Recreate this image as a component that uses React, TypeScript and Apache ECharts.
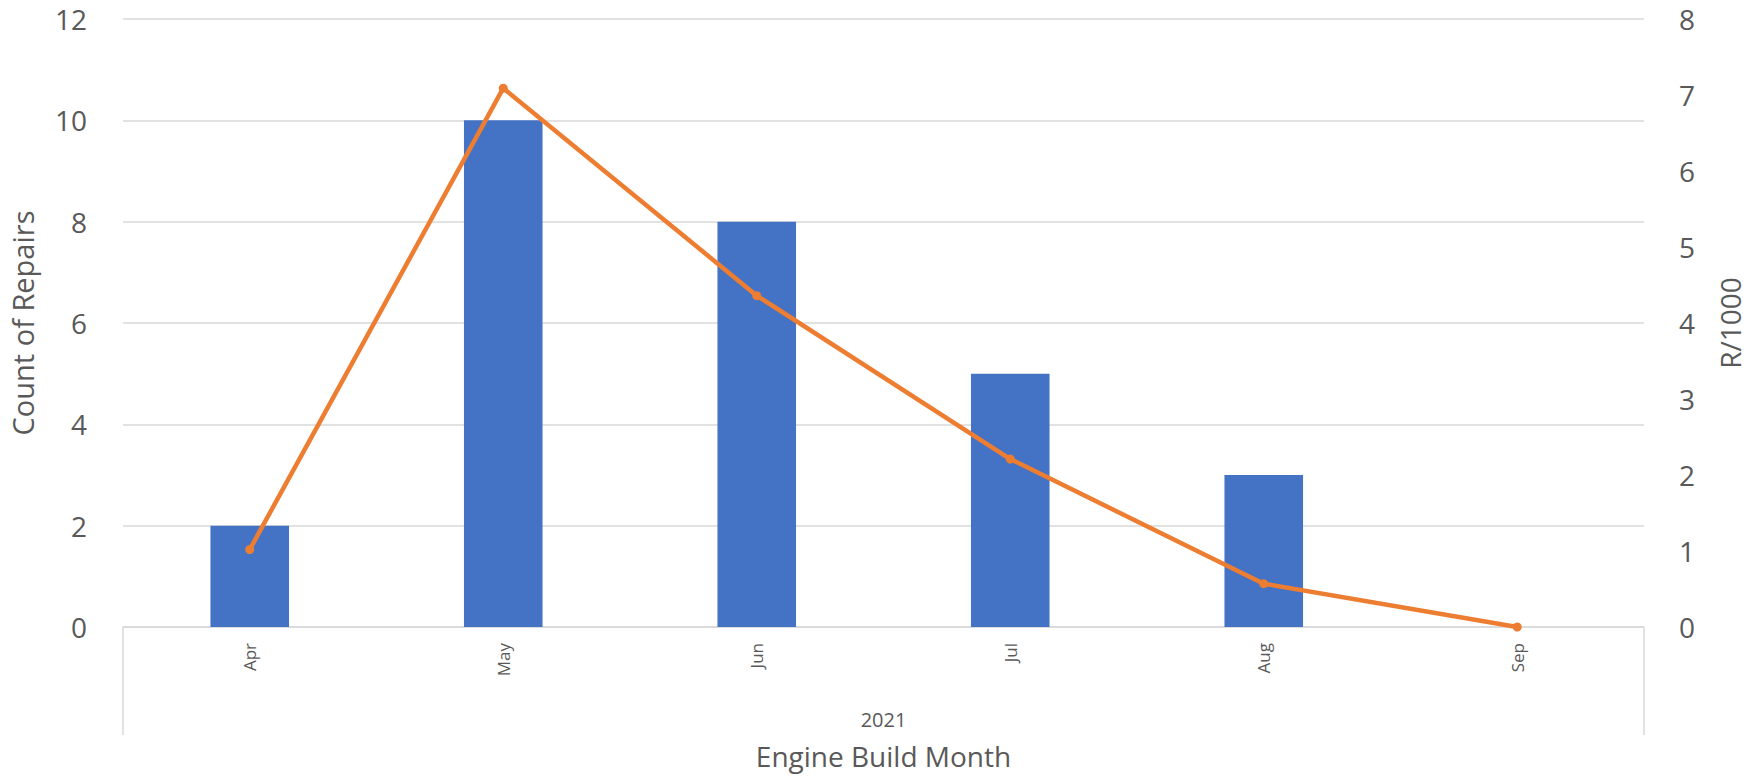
import React, { useEffect, useRef } from "react";
import * as echarts from "echarts";

const months = ["Apr", "May", "Jun", "Jul", "Aug", "Sep"];
const years = ["2021"];
const repairCounts = [2, 10, 8, 5, 3, 0];
const ratePerThousand = [1.02, 7.09, 4.36, 2.21, 0.57, 0];

const FONT = "'Open Sans', 'Noto Sans', sans-serif";
const TEXT = "#595959";
const GRID = "#d9d9d9";

export default function App() {
  const ref = useRef<HTMLDivElement>(null);
  useEffect(() => {
    if (!ref.current) return;
    const chart = echarts.init(ref.current, undefined, { renderer: "svg" });
    chart.setOption({
      animation: false,
      backgroundColor: "#ffffff",
      textStyle: { fontFamily: FONT },
      grid: { left: 122, right: 104, top: 19, bottom: 151, containLabel: false },
      xAxis: [
        {
          type: "category",
          data: months,
          position: "bottom",
          axisLine: { show: true, lineStyle: { color: GRID, width: 1.5 } },
          axisTick: { show: false },
          axisLabel: {
            rotate: 90,
            fontSize: 17,
            color: TEXT,
            margin: 16,
            fontFamily: FONT,
          },
        },
        {
          type: "category",
          data: years,
          position: "bottom",
          axisLine: { show: false },
          axisTick: {
            show: true,
            alignWithLabel: false,
            length: 108,
            lineStyle: { color: GRID, width: 1.5 },
          },
          axisLabel: { fontSize: 20, color: TEXT, margin: 82, fontFamily: FONT },
          name: "Engine Build Month",
          nameLocation: "middle",
          nameGap: 115,
          nameTextStyle: { fontSize: 28, color: TEXT, fontFamily: FONT },
        },
      ],
      yAxis: [
        {
          type: "value",
          min: 0,
          max: 12,
          interval: 2,
          position: "left",
          axisLine: { show: false },
          axisTick: { show: false },
          splitLine: { show: true, lineStyle: { color: GRID, width: 1.5 } },
          axisLabel: { fontSize: 28, color: TEXT, margin: 36, fontFamily: FONT },
          name: "Count of Repairs",
          nameLocation: "middle",
          nameGap: 86,
          nameTextStyle: { fontSize: 29, color: TEXT, fontFamily: FONT },
        },
        {
          type: "value",
          min: 0,
          max: 8,
          interval: 1,
          position: "right",
          axisLine: { show: false },
          axisTick: { show: false },
          splitLine: { show: false },
          axisLabel: { fontSize: 28, color: TEXT, margin: 35, fontFamily: FONT },
          name: "R/1000",
          nameLocation: "middle",
          nameGap: 72,
          nameTextStyle: { fontSize: 28, color: TEXT, fontFamily: FONT },
        },
      ],
      series: [
        {
          name: "Count of Repairs",
          type: "bar",
          xAxisIndex: 0,
          yAxisIndex: 0,
          data: repairCounts,
          barWidth: "31%",
          itemStyle: { color: "#4472C4" },
        },
        {
          name: "R/1000",
          type: "line",
          xAxisIndex: 0,
          yAxisIndex: 1,
          data: ratePerThousand,
          symbol: "circle",
          symbolSize: 9,
          lineStyle: { color: "#ED7D31", width: 4.5 },
          itemStyle: { color: "#ED7D31" },
        },
      ],
    });
    return () => chart.dispose();
  }, []);
  return (
    <div
      ref={ref}
      style={{ position: "fixed", left: 0, top: 0, width: 1752, height: 778 }}
    />
  );
}
